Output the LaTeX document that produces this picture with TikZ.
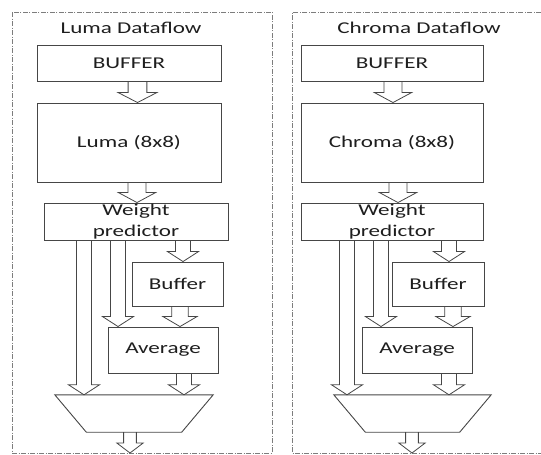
\documentclass[tikz,border=0pt]{standalone}
\usepackage{fontspec}
\setmainfont{Carlito}[FakeStretch=1.4]
\usetikzlibrary{calc}
\definecolor{lineg}{RGB}{70,70,70}
\definecolor{frameg}{RGB}{125,125,125}
\definecolor{textg}{RGB}{30,30,30}

% hollow block arrow, straight down: [size] {x} {from} {to}
\newcommand{\blockarrow}[4][1]{%
  \draw[hollow] let \p1=(#2,0 |- #3), \p2=(#2,0 |- #4) in
    (\x1-7.5pt*#1,\y1) -- (\x1-7.5pt*#1,\y2+10pt) -- (\x1-15.5pt*#1,\y2+10pt) -- (\x2,\y2)
    -- (\x1+15.5pt*#1,\y2+10pt) -- (\x1+7.5pt*#1,\y2+10pt) -- (\x1+7.5pt*#1,\y1);}
% the mux outline round a named box
\newcommand{\muxshape}[1]{%
  \draw[muxline] (#1.north west) -- (#1.north east) -- ($(#1.south east)+(-31.5,0)$)
    -- ($(#1.south west)+(31.5,0)$) -- cycle;}

\begin{document}
\begin{tikzpicture}[x=1pt,y=-1pt,font=\fontsize{16.5}{21}\selectfont,text=textg,
      blk/.style={draw=lineg,line width=.9pt,inner sep=0pt,align=center},
      mux/.style={inner sep=0pt,minimum width=158pt,minimum height=37pt},
      muxline/.style={draw=lineg,line width=.9pt},
      hollow/.style={draw=lineg,line width=.8pt},
      frame/.style={draw=frameg,line width=.8pt,dash pattern=on 5pt off 1.5pt on 1pt off 1.5pt}]
  \useasboundingbox (0,0) rectangle (541,455);
  \draw[frame] (12,12) rectangle (272,453);
  \draw[frame] (541,12) -- (292,12) -- (292,453) -- (541,453);

  % luma side
  \node[anchor=base] (ltitle) at (131,33) {Luma Dataflow};
  \node[blk,minimum width=184pt,minimum height=36pt] (lbuf) at (129,63) {BUFFER};
  \node[blk,minimum width=184pt,minimum height=79pt] (lluma) at (129,142.5) {Luma (8x8)};
  \node[blk,minimum width=184pt,minimum height=37pt] (lwp) at (136,221.5) {Weight\\predictor};
  \node[blk,minimum width=91pt,minimum height=44pt] (lbuf2) at (177.5,284) {Buffer};
  \node[blk,minimum width=110pt,minimum height=46pt] (lavg) at (163,350) {Average};
  \node[mux] (lmux) at (134,413.5) {};
  \muxshape{lmux}
  \coordinate (lout) at (130,453);
  \blockarrow[1.25]{137.5}{lbuf.south}{lluma.north}
  \blockarrow[1.2]{137}{lluma.south}{lwp.north}
  \blockarrow{84}{lwp.south}{lmux.north}
  \blockarrow{118}{lwp.south}{lavg.north}
  \blockarrow{183}{lwp.south}{lbuf2.north}
  \blockarrow[1.1]{180}{lbuf2.south}{lavg.north}
  \blockarrow{184}{lavg.south}{lmux.north}
  \blockarrow[0.85]{130}{lmux.south}{lout}

  % chroma side
  \node[anchor=base] (ctitle) at (419,33) {Chroma Dataflow};
  \node[blk,minimum width=182pt,minimum height=36pt] (cbuf) at (392,63) {BUFFER};
  \node[blk,minimum width=182pt,minimum height=79pt] (cchroma) at (392,142.5) {Chroma (8x8)};
  \node[blk,minimum width=182pt,minimum height=37pt] (cwp) at (392,221.5) {Weight\\predictor};
  \node[blk,minimum width=92pt,minimum height=44pt] (cbuf2) at (438,284) {Buffer};
  \node[blk,minimum width=110pt,minimum height=46pt] (cavg) at (417,350) {Average};
  \node[mux,minimum width=157pt] (cmux) at (412.5,413.5) {};
  \muxshape{cmux}
  \coordinate (cout) at (412,453);
  \blockarrow[1.2]{393}{cbuf.south}{cchroma.north}
  \blockarrow[1.2]{398}{cchroma.south}{cwp.north}
  \blockarrow{347}{cwp.south}{cmux.north}
  \blockarrow{381}{cwp.south}{cavg.north}
  \blockarrow{449}{cwp.south}{cbuf2.north}
  \blockarrow[1.1]{453}{cbuf2.south}{cavg.north}
  \blockarrow{449}{cavg.south}{cmux.north}
  \blockarrow[0.85]{412}{cmux.south}{cout}
\end{tikzpicture}
\end{document}
